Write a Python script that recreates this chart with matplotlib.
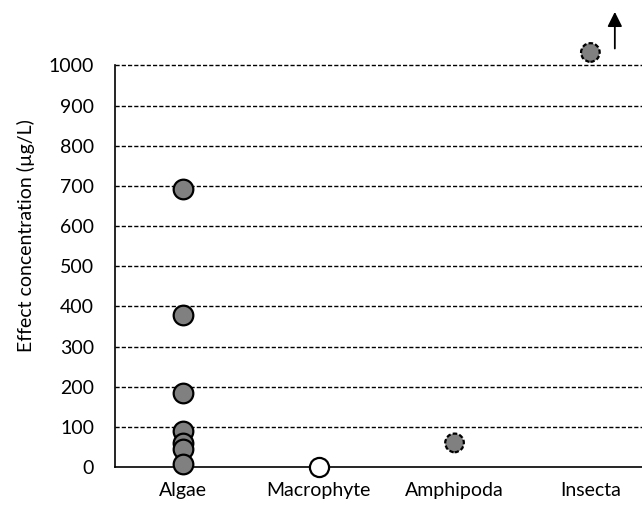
import numpy as np
import matplotlib.pyplot as plt

plt.rcParams['font.family'] = ['Lato', 'DejaVu Sans']

# data (ug/L)
groups = ['Algae', 'Macrophyte', 'Amphipoda', 'Insecta']
algae = [692, 378, 185, 90, 60, 45, 8]
macrophyte = [0]
amphipoda = [60]
insecta = [1032]

fig = plt.figure(figsize=(6.42, 5.09), dpi=100)
ax = fig.add_axes([0.179, 0.0825, 0.821, 0.9075])

# filled algae points, solid edge
ax.scatter(np.full(len(algae), 1), algae, s=200, c='#808080',
           edgecolors='black', linewidths=1.6, zorder=3, clip_on=False)
# macrophyte: open circle
ax.scatter(np.full(len(macrophyte), 2), macrophyte, s=190, c='white',
           edgecolors='black', linewidths=1.6, zorder=3, clip_on=False)
# amphipoda and insecta: dashed edge
ax.scatter(np.full(len(amphipoda), 3), amphipoda, s=180, c='#808080',
           edgecolors='black', linewidths=1.6, linestyles=(0, (2, 1)), zorder=3)
ax.scatter(np.full(len(insecta), 4), insecta, s=180, c='#808080',
           edgecolors='black', linewidths=1.6, linestyles=(0, (2, 1)), zorder=3)

# arrow: value is greater than shown
ax.annotate('', xy=(4.18, 1140), xytext=(4.18, 1035),
            arrowprops=dict(arrowstyle='-|>', color='black', lw=1.3,
                            mutation_scale=22), annotation_clip=False)

ax.set_xlim(0.5, 4.38)
ax.set_ylim(0, 1150)
ax.set_xticks(range(1, 5))
ax.set_xticklabels(groups)
ax.set_yticks(np.arange(0, 1001, 100))
ax.tick_params(axis='both', length=0, labelsize=14)
ax.tick_params(axis='x', pad=11)
ax.tick_params(axis='y', pad=15)

for v in np.arange(100, 1001, 100):
    ax.axhline(v, color='black', lw=1, ls=(0, (3, 1.5)), zorder=1)

for s in ['top', 'right']:
    ax.spines[s].set_visible(False)
ax.spines['left'].set_bounds(0, 1000)
ax.spines['left'].set_linewidth(1.2)
ax.spines['bottom'].set_linewidth(1.2)

ax.set_ylabel('Effect concentration (\u00b5g/L)', fontsize=14, labelpad=10)

plt.savefig('out.png', dpi=100)
